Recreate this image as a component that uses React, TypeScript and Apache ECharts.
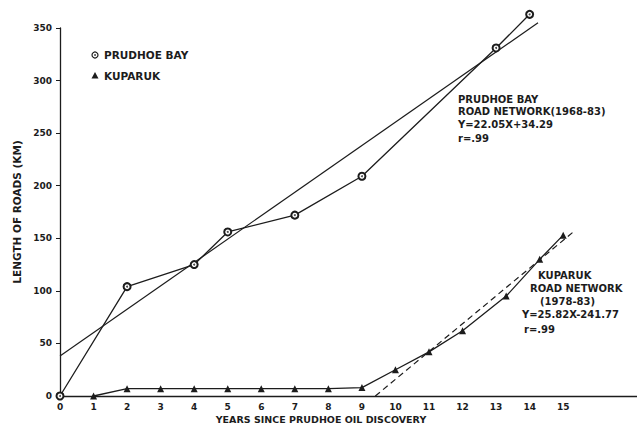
import React, { useEffect, useRef } from "react";
import * as echarts from "echarts";

const prudhoeYears = [0, 2, 4, 5, 7, 9, 13, 14];
const prudhoeKm = [0, 104, 125, 156, 172, 209, 331, 363];
const kuparukYears = [1, 2, 3, 4, 5, 6, 7, 8, 9, 10, 11, 12, 13.3, 14.3, 15];
const kuparukKm = [0, 7, 7, 7, 7, 7, 7, 7, 8, 25, 42, 62, 95, 130, 153];
const prudhoeFitEnds = [[0, 38], [14.25, 355]];
const kuparukFitEnds = [[9.4, 0], [15.3, 156]];
const xTicksShown = [0, 1, 2, 3, 4, 5, 6, 7, 8, 9, 10, 11, 12, 13, 14, 15];

const FONT = "DejaVu Sans";
const INK = "#1c1c1c";

export default function App() {
  const ref = useRef<HTMLDivElement>(null);
  useEffect(() => {
    if (!ref.current) return;
    const chart = echarts.init(ref.current, undefined, { renderer: "svg" });
    const textStyle = (t: string, x: number, y: number, size = 10) => ({
      type: "text",
      x,
      y,
      style: { text: t, fill: INK, font: `bold ${size}px "${FONT}"`, textVerticalAlign: "middle" },
    });
    const prudhoePts = prudhoeYears.map((x, i) => [x, prudhoeKm[i]]);
    chart.setOption({
      animation: false,
      backgroundColor: "#ffffff",
      grid: { left: 60, right: 0, top: 28, bottom: 30, containLabel: false },
      xAxis: {
        type: "value",
        min: 0,
        max: 17.2,
        interval: 1,
        splitLine: { show: false },
        axisTick: { show: false },
        axisLine: { lineStyle: { color: INK, width: 1.3 } },
        axisLabel: {
          color: INK,
          fontFamily: FONT,
          fontWeight: "bold",
          fontSize: 9,
          margin: 6,
          showMaxLabel: false,
          formatter: (v: number) => (xTicksShown.includes(v) ? String(v) : ""),
        },
      },
      yAxis: {
        type: "value",
        min: 0,
        max: 350,
        interval: 50,
        name: "LENGTH OF ROADS (KM)",
        nameLocation: "middle",
        nameRotate: 90,
        nameGap: 38,
        nameTextStyle: { color: INK, fontFamily: FONT, fontWeight: "bold", fontSize: 10.5 },
        splitLine: { show: false },
        axisTick: { show: true, inside: false, length: 4, lineStyle: { color: INK } },
        axisLine: { show: true, lineStyle: { color: INK, width: 1.3 } },
        axisLabel: { color: INK, fontFamily: FONT, fontWeight: "bold", fontSize: 9, margin: 8 },
      },
      series: [
        {
          name: "PRUDHOE BAY",
          type: "line",
          clip: false,
          data: prudhoePts,
          symbol: "emptyCircle",
          symbolSize: 7,
          lineStyle: { color: INK, width: 1.3 },
          itemStyle: { color: INK, borderColor: INK, borderWidth: 1.2 },
        },
        {
          name: "Prudhoe dots",
          type: "scatter",
          clip: false,
          data: prudhoePts,
          symbol: "circle",
          symbolSize: 2,
          itemStyle: { color: INK },
          z: 5,
        },
        {
          name: "Prudhoe fit",
          type: "line",
          clip: false,
          data: prudhoeFitEnds,
          symbol: "none",
          lineStyle: { color: INK, width: 1.2 },
        },
        {
          name: "KUPARUK",
          type: "line",
          clip: false,
          data: kuparukYears.map((x, i) => [x, kuparukKm[i]]),
          symbol: "triangle",
          symbolSize: 7,
          lineStyle: { color: INK, width: 1.3 },
          itemStyle: { color: INK },
        },
        {
          name: "Kuparuk fit",
          type: "line",
          clip: false,
          data: kuparukFitEnds,
          symbol: "none",
          lineStyle: { color: INK, width: 1.2, type: [6, 4] },
        },
      ],
      graphic: [
        { type: "circle", shape: { cx: 95, cy: 55, r: 3 }, style: { fill: "#fff", stroke: INK, lineWidth: 1.2 } },
        { type: "circle", shape: { cx: 95, cy: 55, r: 0.8 }, style: { fill: INK } },
        textStyle("PRUDHOE BAY", 104, 55, 10.5),
        { type: "polygon", shape: { points: [[95, 72], [91.5, 78.5], [98.5, 78.5]] }, style: { fill: INK } },
        textStyle("KUPARUK", 104, 76, 10.5),
        textStyle("PRUDHOE BAY", 458, 99),
        textStyle("ROAD NETWORK(1968-83)", 458, 111),
        textStyle("Y=22.05X+34.29", 458, 124),
        textStyle("r=.99", 458, 138),
        textStyle("KUPARUK", 538, 275),
        textStyle("ROAD NETWORK", 530, 288),
        textStyle("(1978-83)", 540, 301),
        textStyle("Y=25.82X-241.77", 522, 314),
        textStyle("r=.99", 524, 329),
        {
          type: "text",
          x: 321,
          y: 419,
          style: {
            text: "YEARS SINCE PRUDHOE OIL DISCOVERY",
            fill: INK,
            font: `bold 9.5px "${FONT}"`,
            textAlign: "center",
            textVerticalAlign: "middle",
          },
        },
      ],
    });
    return () => chart.dispose();
  }, []);
  return (
    <div
      ref={ref}
      style={{ position: "fixed", left: 0, top: 0, width: 637, height: 426, background: "#fff" }}
    />
  );
}
